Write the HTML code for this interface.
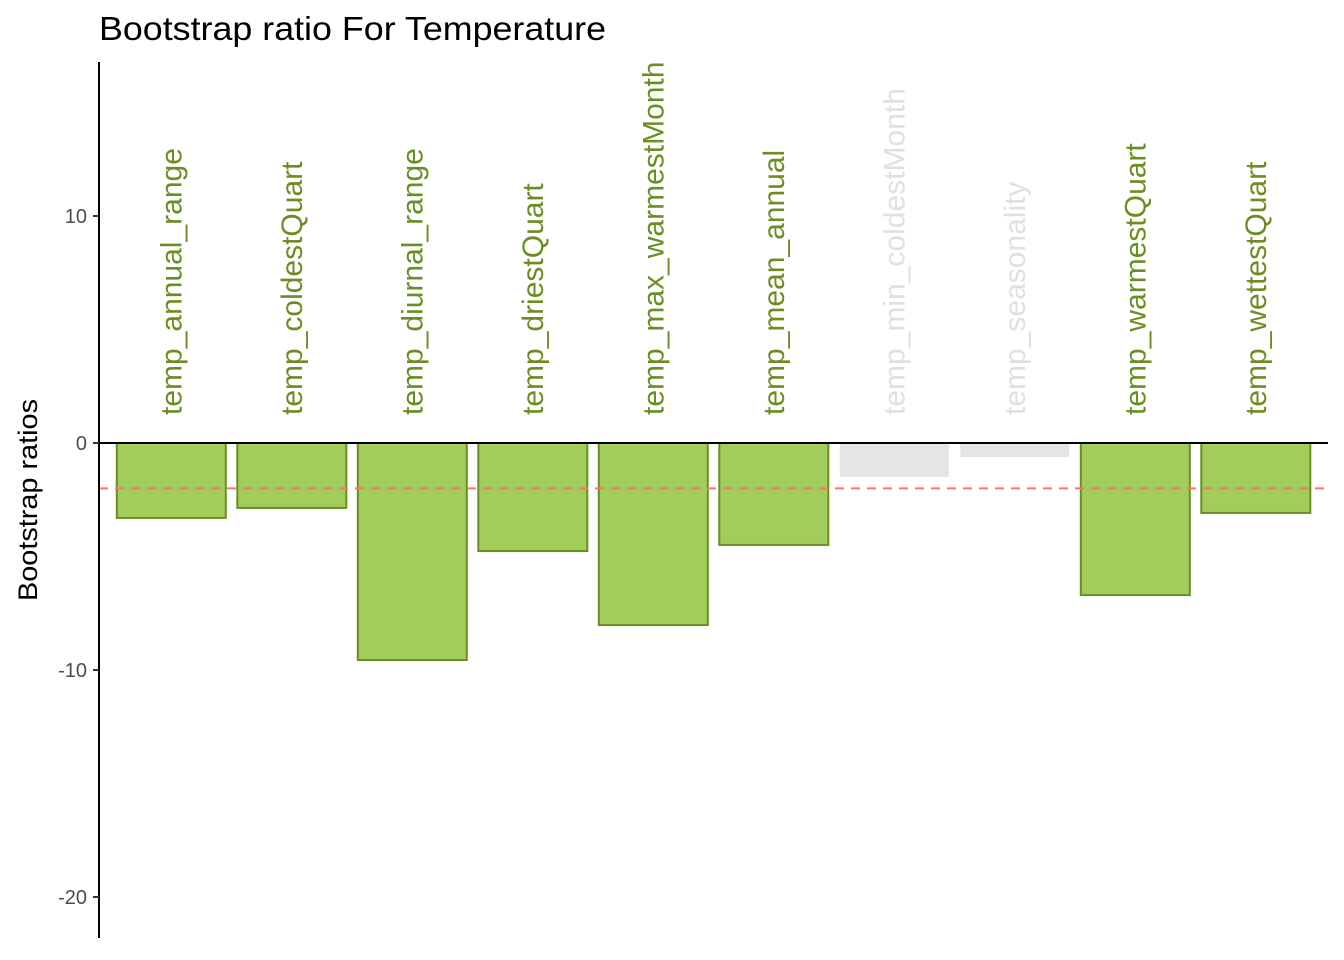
<!DOCTYPE html>
<html><head><meta charset="utf-8"><style>body{margin:0;background:#fff}svg{display:block;font-family:"Liberation Sans",Arial,sans-serif}</style></head>
<body>
<svg id="chart" width="1344" height="960" xmlns="http://www.w3.org/2000/svg">
<defs><clipPath id="pc"><rect x="99" y="62" width="1245" height="876"/></clipPath></defs>
<text x="99" y="40" font-size="33" fill="#000" textLength="507" lengthAdjust="spacingAndGlyphs">Bootstrap ratio For Temperature</text>
<text transform="translate(37,500) rotate(-90)" text-anchor="middle" font-size="27" fill="#000" textLength="202" lengthAdjust="spacingAndGlyphs">Bootstrap ratios</text>
<g id="bars" clip-path="url(#pc)"></g>
<g id="axes"></g>
</svg>
<script>
const categories=["temp_annual_range","temp_coldestQuart","temp_diurnal_range","temp_driestQuart","temp_max_warmestMonth","temp_mean_annual","temp_min_coldestMonth","temp_seasonality","temp_warmestQuart","temp_wettestQuart"];
const values=[-3.3,-2.86,-9.56,-4.76,-8.02,-4.49,-1.5,-0.62,-6.7,-3.08];
const significant=[true,true,true,true,true,true,false,false,true,true];
const yTicks=[10,0,-10,-20];
const threshold=-2;
const NS="http://www.w3.org/2000/svg";
const y=v=>443-22.7*v;
const x=i=>99+(i+0.6)*120.5;
const bw=109;
const bars=document.getElementById('bars'),axes=document.getElementById('axes');
function mk(tag,attrs,parent){const e=document.createElementNS(NS,tag);for(const k in attrs)e.setAttribute(k,attrs[k]);parent.appendChild(e);return e;}
values.forEach((v,i)=>{
 const sig=significant[i];
 const r=mk('rect',{x:x(i)-bw/2,y:Math.min(y(v),y(0)),width:bw,height:Math.abs(y(v)-y(0)),fill:sig?'#A2CD5A':'#E5E5E5',stroke:sig?'#6B8E23':'none','stroke-width':2},bars);
 
 
});
const dl=mk('line',{x1:99,x2:1328,y1:y(threshold),y2:y(threshold),stroke:'#F8766D','stroke-width':2,'stroke-dasharray':'9,7'},bars);


categories.forEach((c,i)=>{
 const t=mk('text',{transform:`translate(${x(i)+10},415) rotate(-90)`,'font-size':30,fill:significant[i]?'#6B8E23':'#E0E0E0'},bars);
 t.textContent=c;
 
 
});
const zl=mk('line',{x1:99,x2:1328,y1:y(0),y2:y(0),stroke:'#000','stroke-width':2},axes);


const ya=mk('line',{x1:99,x2:99,y1:62,y2:938,stroke:'#000','stroke-width':2},axes);


yTicks.forEach(v=>{
 const tk=mk('line',{x1:93,x2:99,y1:y(v),y2:y(v),stroke:'#333','stroke-width':2},axes);
 
 
 const tl=mk('text',{x:87,y:y(v)+7,'text-anchor':'end','font-size':20,fill:'#4D4D4D'},axes);
 tl.textContent=v;
 
 
});
</script>
</body></html>
